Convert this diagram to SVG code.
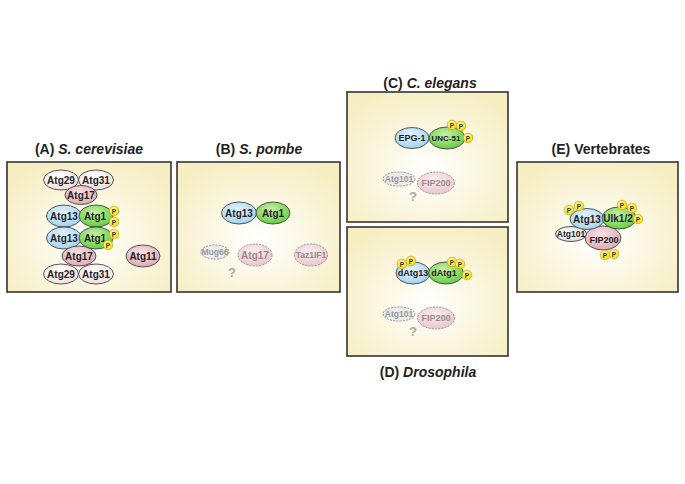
<svg xmlns="http://www.w3.org/2000/svg" width="685" height="484" viewBox="0 0 685 484">
<defs>
<radialGradient id="bg" cx="0.5" cy="0.6" r="0.65">
<stop offset="0" stop-color="#ffffff"/>
<stop offset="1" stop-color="#f6eec2"/>
</radialGradient>
<radialGradient id="gBlue" cx="0.45" cy="0.35" r="0.7">
<stop offset="0" stop-color="#e4f3fc"/>
<stop offset="1" stop-color="#9fd0ef"/>
</radialGradient>
<radialGradient id="gGreen" cx="0.45" cy="0.35" r="0.7">
<stop offset="0" stop-color="#c8f0a8"/>
<stop offset="1" stop-color="#5ecb3a"/>
</radialGradient>
<radialGradient id="gPink" cx="0.45" cy="0.35" r="0.7">
<stop offset="0" stop-color="#f8e2e6"/>
<stop offset="1" stop-color="#dca6b0"/>
</radialGradient>
<radialGradient id="gLight" cx="0.45" cy="0.35" r="0.7">
<stop offset="0" stop-color="#ffffff"/>
<stop offset="1" stop-color="#f2dcdc"/>
</radialGradient>
<radialGradient id="gGray" cx="0.45" cy="0.35" r="0.7">
<stop offset="0" stop-color="#ffffff"/>
<stop offset="1" stop-color="#dcdcdc"/>
</radialGradient>
<radialGradient id="gFade" cx="0.45" cy="0.35" r="0.7">
<stop offset="0" stop-color="#fbeef0"/>
<stop offset="1" stop-color="#e8c4ca"/>
</radialGradient>
<radialGradient id="gP" cx="0.4" cy="0.35" r="0.7">
<stop offset="0" stop-color="#fffaa0"/>
<stop offset="1" stop-color="#f0dc10"/>
</radialGradient>
</defs>
<style>
.box{fill:url(#bg);stroke:#333;stroke-width:1.6}
.title{font-family:"Liberation Sans",Arial,sans-serif;font-weight:bold;font-size:14px;fill:#222;text-anchor:middle}
.lbl{font-family:"Liberation Sans",Arial,sans-serif;font-weight:bold;font-size:10px;fill:#222;text-anchor:middle;dominant-baseline:central}
.sm{font-size:8.5px}
.fl{fill:#999}
.fp{fill:#9a8a8e}
.e{stroke:#444;stroke-width:0.9}
.blue{fill:url(#gBlue)}
.green{fill:url(#gGreen)}
.pink{fill:url(#gPink)}
.light{fill:url(#gLight)}
.gray{fill:url(#gGray)}
.dash{stroke:#888;stroke-width:0.9;stroke-dasharray:2 1.2}
.fade{fill:url(#gFade)}
.fgray{fill:#ececec}
.p{fill:url(#gP);stroke:#c8a800;stroke-width:0.7}
.pt{font-family:"Liberation Sans",Arial,sans-serif;font-weight:bold;font-size:6.5px;fill:#333;text-anchor:middle;dominant-baseline:central}
.q{font-family:"Liberation Sans",Arial,sans-serif;font-weight:bold;font-size:13px;fill:#aaa;text-anchor:middle;dominant-baseline:central}
</style>

<g id="panelA">
<text class="title" x="89" y="154">(A) <tspan font-style="italic">S. cerevisiae</tspan></text>
<rect class="box" x="7" y="162" width="164" height="130"/>
<g id="A-Atg29-top"><ellipse class="e light" cx="61" cy="180" rx="17.5" ry="10"/><text class="lbl" x="61" y="180">Atg29</text></g>
<g id="A-Atg31-top"><ellipse class="e light" cx="96" cy="180" rx="17.5" ry="10"/><text class="lbl" x="96" y="180">Atg31</text></g>
<g id="A-Atg17-top"><ellipse class="e pink" cx="81" cy="195" rx="16" ry="9.5"/><text class="lbl" x="81" y="195">Atg17</text></g>
<g id="A-Atg13-top"><ellipse class="e blue" cx="64" cy="216" rx="17.5" ry="11"/><text class="lbl" x="64" y="216">Atg13</text></g>
<g id="A-Atg1-top"><ellipse class="e green" cx="96" cy="216" rx="17" ry="11"/><text class="lbl" x="95" y="216">Atg1</text>
<circle class="p" cx="114" cy="211" r="4.8"/><text class="pt" x="114" y="211">P</text>
<circle class="p" cx="114" cy="222" r="4.8"/><text class="pt" x="114" y="222">P</text></g>
<g id="A-Atg13-bot"><ellipse class="e blue" cx="64" cy="238" rx="17.5" ry="11"/><text class="lbl" x="64" y="238">Atg13</text></g>
<g id="A-Atg1-bot"><ellipse class="e green" cx="96" cy="238" rx="17" ry="11"/><text class="lbl" x="95" y="238">Atg1</text>
<circle class="p" cx="114" cy="234" r="4.8"/><text class="pt" x="114" y="234">P</text>
<circle class="p" cx="108" cy="245" r="4.8"/><text class="pt" x="108" y="245">P</text></g>
<g id="A-Atg29-bot"><ellipse class="e light" cx="61" cy="274" rx="17.5" ry="10"/><text class="lbl" x="61" y="274">Atg29</text></g>
<g id="A-Atg31-bot"><ellipse class="e light" cx="96" cy="274" rx="17.5" ry="10"/><text class="lbl" x="96" y="274">Atg31</text></g>
<g id="A-Atg17-bot"><ellipse class="e pink" cx="79" cy="256" rx="17" ry="10"/><text class="lbl" x="79" y="256">Atg17</text></g>
<g id="A-Atg11"><ellipse class="e pink" cx="143" cy="256" rx="17" ry="11"/><text class="lbl" x="143" y="256">Atg11</text></g>
</g>

<g id="panelB">
<text class="title" x="259" y="154">(B) <tspan font-style="italic">S. pombe</tspan></text>
<rect class="box" x="177" y="162" width="163" height="130"/>
<g id="B-Atg13"><ellipse class="e blue" cx="239" cy="213" rx="17.5" ry="11"/><text class="lbl" x="239" y="213">Atg13</text></g>
<g id="B-Atg1"><ellipse class="e green" cx="273" cy="213" rx="17" ry="11"/><text class="lbl" x="273" y="213">Atg1</text></g>
<g id="B-Mug66"><ellipse class="dash fgray" cx="215" cy="252" rx="14" ry="7"/><text class="lbl sm fl" x="215" y="252">Mug66</text></g>
<g id="B-Atg17"><ellipse class="dash fade" cx="255" cy="255" rx="17" ry="11"/><text class="lbl fp" x="255" y="255">Atg17</text></g>
<g id="B-Taz1IF1"><ellipse class="dash fade" cx="311" cy="255" rx="16.5" ry="11"/><text class="lbl sm fp" x="311" y="255">Taz1IF1</text></g>
<text class="q" x="232" y="272">?</text>
</g>

<g id="panelC">
<text class="title" x="430" y="88">(C) <tspan font-style="italic">C. elegans</tspan></text>
<rect class="box" x="347" y="92" width="161" height="130"/>
<g id="C-EPG-1"><ellipse class="e blue" cx="412" cy="138" rx="17" ry="10.5"/><text class="lbl" x="412" y="138" style="font-size:9px">EPG-1</text></g>
<g id="C-UNC-51"><ellipse class="e green" cx="447" cy="138" rx="18" ry="11"/><text class="lbl" x="446" y="138" style="font-size:8px">UNC-51</text>
<circle class="p" cx="452" cy="125" r="4.8"/><text class="pt" x="452" y="125">P</text>
<circle class="p" cx="461" cy="126" r="4.8"/><text class="pt" x="461" y="126">P</text>
<circle class="p" cx="468" cy="138" r="4.8"/><text class="pt" x="468" y="138">P</text></g>
<g id="C-Atg101"><ellipse class="dash fgray" cx="399" cy="179" rx="16" ry="7"/><text class="lbl sm fl" x="399" y="179">Atg101</text></g>
<g id="C-FIP200"><ellipse class="dash fade" cx="436" cy="183" rx="18.5" ry="11"/><text class="lbl fp" x="436" y="183" style="font-size:9px">FIP200</text></g>
<text class="q" x="413" y="196">?</text>
</g>

<g id="panelD">
<rect class="box" x="347" y="227" width="161" height="129"/>
<text class="title" x="428" y="377">(D) <tspan font-style="italic">Drosophila</tspan></text>
<g id="D-dAtg13"><ellipse class="e blue" cx="413" cy="273" rx="17" ry="11"/><text class="lbl" x="413" y="273" style="font-size:9px">dAtg13</text>
<circle class="p" cx="402" cy="264" r="4.8"/><text class="pt" x="402" y="264">P</text>
<circle class="p" cx="411" cy="261" r="4.8"/><text class="pt" x="411" y="261">P</text></g>
<g id="D-dAtg1"><ellipse class="e green" cx="446" cy="273" rx="17.5" ry="11"/><text class="lbl" x="444" y="273" style="font-size:9px">dAtg1</text>
<circle class="p" cx="452" cy="262" r="4.8"/><text class="pt" x="452" y="262">P</text>
<circle class="p" cx="460" cy="264" r="4.8"/><text class="pt" x="460" y="264">P</text>
<circle class="p" cx="467" cy="275" r="4.8"/><text class="pt" x="467" y="275">P</text></g>
<g id="D-Atg101"><ellipse class="dash fgray" cx="399" cy="314" rx="16" ry="7"/><text class="lbl sm fl" x="399" y="314">Atg101</text></g>
<g id="D-FIP200"><ellipse class="dash fade" cx="436" cy="318" rx="18.5" ry="11"/><text class="lbl fp" x="436" y="318" style="font-size:9px">FIP200</text></g>
<text class="q" x="413" y="331">?</text>
</g>

<g id="panelE">
<text class="title" x="601" y="154">(E) Vertebrates</text>
<rect class="box" x="517" y="162" width="161" height="130"/>
<g id="E-FIP200"><ellipse class="e pink" cx="603" cy="238" rx="18" ry="12"/><text class="lbl" x="604" y="240" style="font-size:9px">FIP200</text>
<circle class="p" cx="605" cy="255" r="4.8"/><text class="pt" x="605" y="255">P</text>
<circle class="p" cx="614" cy="254" r="4.8"/><text class="pt" x="614" y="254">P</text></g>
<g id="E-Atg101"><ellipse class="e gray" cx="571" cy="234" rx="15.5" ry="7.5"/><text class="lbl" x="571" y="234" style="font-size:8.5px">Atg101</text></g>
<g id="E-Atg13"><ellipse class="e blue" cx="587" cy="219" rx="17" ry="10.5"/><text class="lbl" x="587" y="219">Atg13</text>
<circle class="p" cx="569" cy="210" r="4.8"/><text class="pt" x="569" y="210">P</text>
<circle class="p" cx="579" cy="206" r="4.8"/><text class="pt" x="579" y="206">P</text></g>
<g id="E-Ulk12"><ellipse class="e green" cx="619" cy="218" rx="17" ry="11"/><text class="lbl" x="618" y="218">Ulk1/2</text>
<circle class="p" cx="622" cy="205" r="4.8"/><text class="pt" x="622" y="205">P</text>
<circle class="p" cx="632" cy="208" r="4.8"/><text class="pt" x="632" y="208">P</text>
<circle class="p" cx="638" cy="219" r="4.8"/><text class="pt" x="638" y="219">P</text></g>
</g>
<g id="connectors"/>
</svg>
